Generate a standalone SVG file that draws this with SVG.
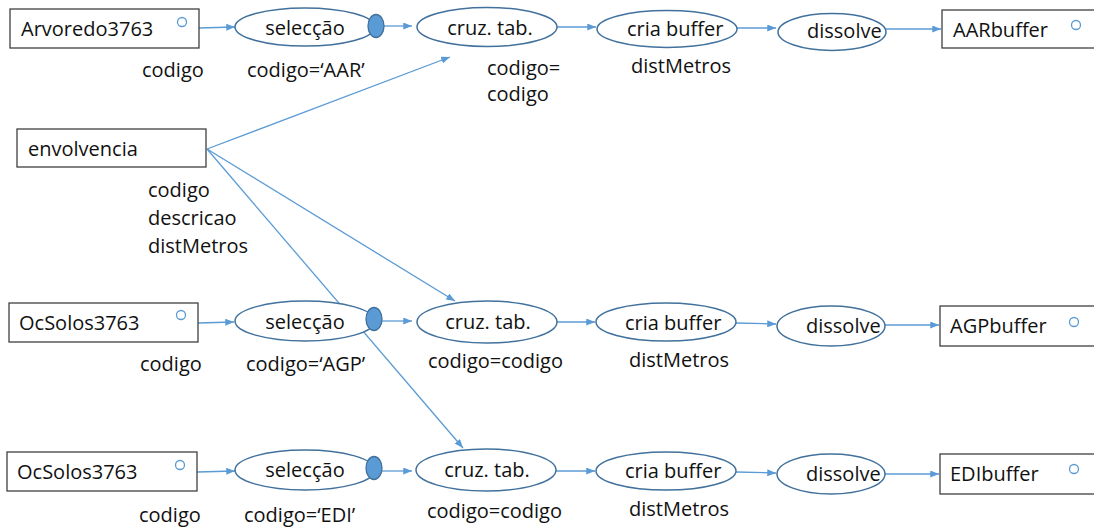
<svg xmlns="http://www.w3.org/2000/svg" width="1094" height="529" viewBox="0 0 1094 529">
<style>
text{font-family:"Open Sans","Noto Sans","Liberation Sans",sans-serif;font-size:20px;fill:#111}
.box{fill:#fff;stroke:#404040;stroke-width:1.3}
.ell{fill:#fff;stroke:#41719C;stroke-width:1.5}
.dot{fill:#5B9BD5;stroke:#41719C;stroke-width:1.3}
.port{fill:none;stroke:#5B9BD5;stroke-width:1.3}
.con line{stroke:#5B9BD5;stroke-width:1.3;marker-end:url(#ah)}
.mid{text-anchor:middle}
</style>
<defs>
<marker id="ah" viewBox="0 0 10 8" refX="10" refY="4" markerWidth="9" markerHeight="7" markerUnits="userSpaceOnUse" orient="auto">
<path d="M0,0 L10,4 L0,8 z" fill="#5B9BD5"/>
</marker>
</defs>
<rect width="1094" height="529" fill="#fff"/>
<g id="connectors" class="con">
<line x1="199" y1="28" x2="235" y2="27"/>
<line x1="384" y1="26" x2="412" y2="26"/>
<line x1="557" y1="27" x2="596" y2="27"/>
<line x1="737" y1="28" x2="776" y2="28"/>
<line x1="886" y1="29" x2="941" y2="29"/>
<line x1="207" y1="149" x2="450" y2="57"/>
<line x1="207" y1="149" x2="455" y2="301"/>
<line x1="207" y1="149" x2="463" y2="448"/>
<line x1="198" y1="323" x2="234" y2="322"/>
<line x1="382" y1="321" x2="412" y2="321"/>
<line x1="557" y1="322" x2="595" y2="322"/>
<line x1="736" y1="323" x2="776" y2="324"/>
<line x1="885" y1="325" x2="939" y2="325"/>
<line x1="197" y1="472" x2="235" y2="471"/>
<line x1="382" y1="471" x2="412" y2="471"/>
<line x1="556" y1="471" x2="595" y2="471"/>
<line x1="736" y1="472" x2="776" y2="473"/>
<line x1="885" y1="474" x2="939" y2="474"/>
</g>
<g id="arvoredo"><rect class="box" x="10" y="9" width="189" height="39"/><circle class="port" cx="182" cy="22" r="4.5"/><text x="21" y="36">Arvoredo3763</text><text x="142" y="77">codigo</text></g>
<g id="sel1"><ellipse class="ell" cx="305" cy="27" rx="70" ry="19"/><ellipse class="dot" cx="376" cy="26" rx="8" ry="11.5"/><text class="mid" x="305" y="35">selecção</text><text x="247" y="77">codigo=‘AAR’</text></g>
<g id="cruz1"><ellipse class="ell" cx="487" cy="27" rx="70" ry="19.5"/><text class="mid" x="490" y="35">cruz. tab.</text><text x="487" y="75">codigo=</text><text x="487" y="101">codigo</text></g>
<g id="buf1"><ellipse class="ell" cx="667" cy="29" rx="70" ry="18.5"/><text x="627" y="36">cria buffer</text><text x="631" y="73">distMetros</text></g>
<g id="dis1"><ellipse class="ell" cx="832" cy="32" rx="54" ry="18.5"/><text x="807" y="38">dissolve</text></g>
<g id="aar"><rect class="box" x="942" y="10" width="200" height="38"/><circle class="port" cx="1076" cy="25" r="4.5"/><text x="953" y="37">AARbuffer</text></g>
<g id="envolvencia"><rect class="box" x="17" y="129" width="189" height="38"/><text x="28" y="156">envolvencia</text><text x="148" y="197">codigo</text><text x="148" y="225">descricao</text><text x="148" y="253">distMetros</text></g>
<g id="ocsolos2"><rect class="box" x="9" y="303" width="189" height="39"/><circle class="port" cx="181" cy="315" r="4.5"/><text x="19" y="330">OcSolos3763</text><text x="140" y="371">codigo</text></g>
<g id="sel2"><ellipse class="ell" cx="305" cy="321" rx="70" ry="20"/><ellipse class="dot" cx="374" cy="319" rx="8" ry="11.5"/><text class="mid" x="305" y="329">selecção</text><text x="246" y="371">codigo=‘AGP’</text></g>
<g id="cruz2"><ellipse class="ell" cx="487" cy="322" rx="70" ry="21"/><text class="mid" x="488" y="329">cruz. tab.</text><text x="428" y="368">codigo=codigo</text></g>
<g id="buf2"><ellipse class="ell" cx="666" cy="322" rx="70" ry="19"/><text x="625" y="330">cria buffer</text><text x="629" y="367">distMetros</text></g>
<g id="dis2"><ellipse class="ell" cx="831" cy="326" rx="54" ry="20"/><text x="806" y="333">dissolve</text></g>
<g id="agp"><rect class="box" x="940" y="306" width="200" height="40"/><circle class="port" cx="1074" cy="322" r="4.5"/><text x="950" y="333">AGPbuffer</text></g>
<g id="ocsolos3"><rect class="box" x="7" y="452" width="190" height="39"/><circle class="port" cx="180" cy="465" r="4.5"/><text x="17" y="479">OcSolos3763</text><text x="139" y="522">codigo</text></g>
<g id="sel3"><ellipse class="ell" cx="305" cy="470" rx="70" ry="20"/><ellipse class="dot" cx="374" cy="468" rx="8" ry="11.5"/><text class="mid" x="305" y="477">selecção</text><text x="244" y="522">codigo=‘EDI’</text></g>
<g id="cruz3"><ellipse class="ell" cx="486" cy="470" rx="70" ry="21"/><text class="mid" x="487" y="477">cruz. tab.</text><text x="427" y="518">codigo=codigo</text></g>
<g id="buf3"><ellipse class="ell" cx="666" cy="471" rx="70" ry="19"/><text x="625" y="478">cria buffer</text><text x="629" y="516">distMetros</text></g>
<g id="dis3"><ellipse class="ell" cx="831" cy="474" rx="54" ry="20"/><text x="806" y="481">dissolve</text></g>
<g id="edi"><rect class="box" x="940" y="454" width="200" height="40"/><circle class="port" cx="1074" cy="469" r="4.5"/><text x="950" y="481">EDIbuffer</text></g>
</svg>
